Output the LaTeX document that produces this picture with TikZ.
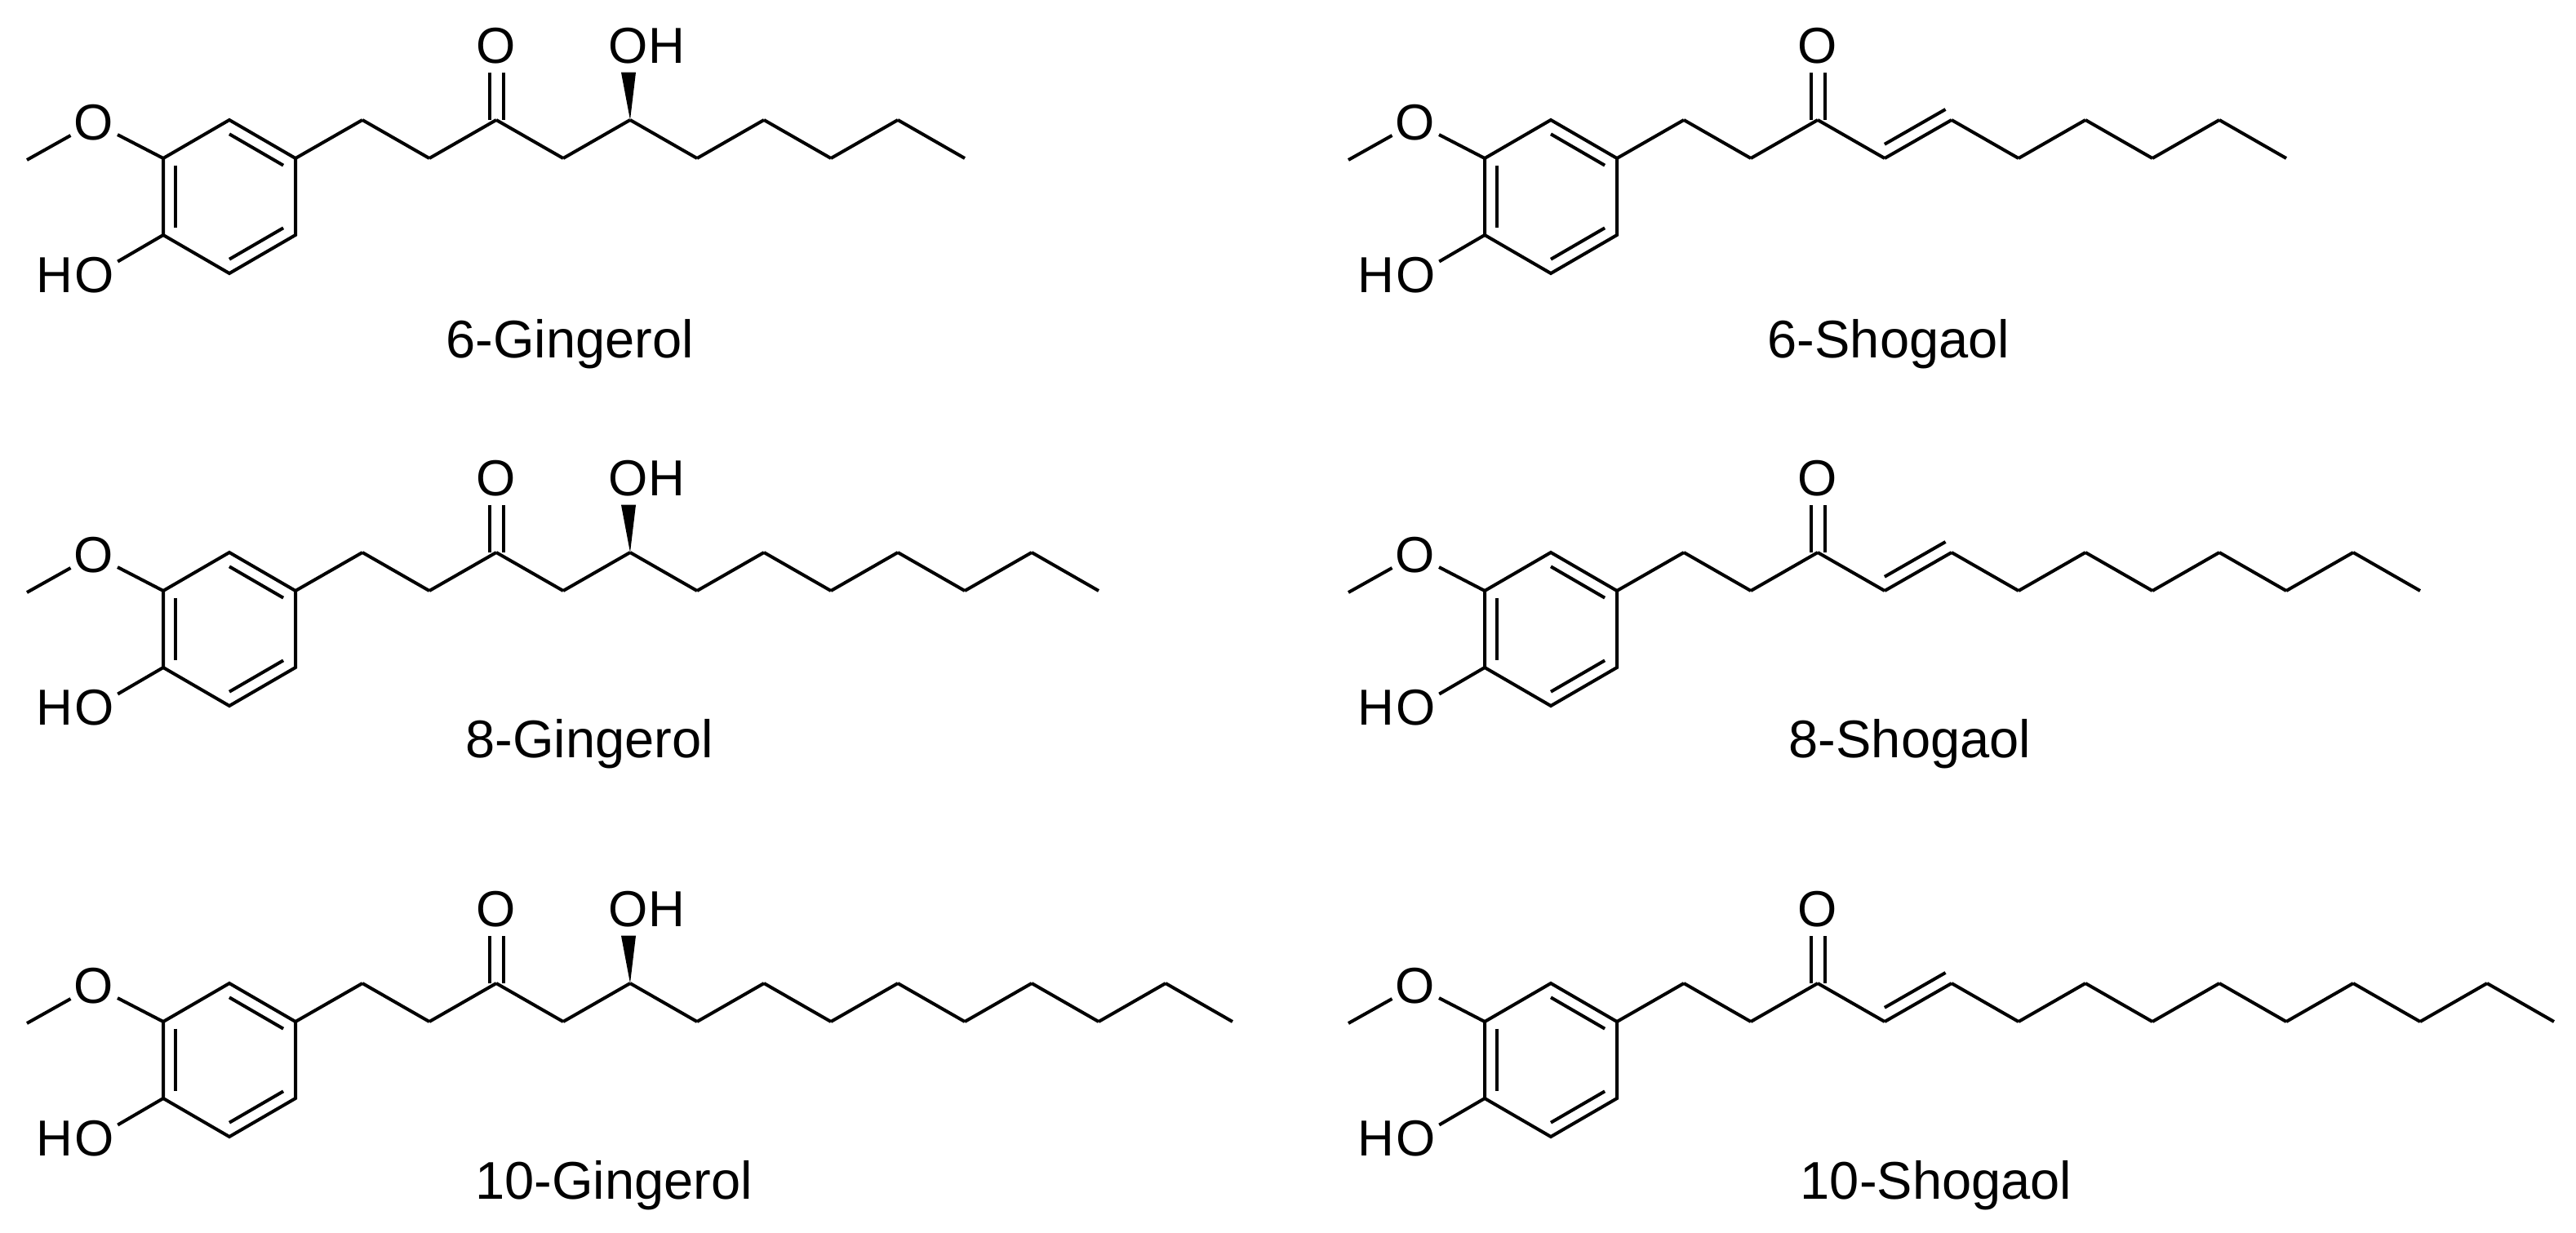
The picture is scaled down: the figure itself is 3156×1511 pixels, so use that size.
\documentclass[tikz,border=0pt]{standalone}
\usepackage{fontspec}
\setmainfont{Liberation Sans}
\usetikzlibrary{calc}
\tikzset{
  bond/.style={line width=4pt},
  atom/.style={circle,inner sep=0pt,font=\fontsize{62}{70}\selectfont},
  hlab/.style={inner sep=0pt,font=\fontsize{62}{70}\selectfont},
  lab/.style={inner sep=0pt,anchor=base,font=\fontsize{65}{72}\selectfont},
}
% #1 prefix, #2 xoff, #3 yoff, #4 last chain index, #5 1=shogaol 0=gingerol
\newcommand\mymol[5]{%
\begin{scope}[shift={(#2,#3)}]
\coordinate (#1cen) at (281,241);
\coordinate (#1a) at (281,147);
\coordinate (#1b) at (362,194);
\coordinate (#1c) at (362,288);
\coordinate (#1d) at (281,335);
\coordinate (#1e) at (200,288);
\coordinate (#1f) at (200,194);
\draw[bond] (#1a)--(#1b)--(#1c)--(#1d)--(#1e)--(#1f)--cycle;
\draw[bond] ($(#1cen)!0.816!(#1f)$)--($(#1cen)!0.816!(#1e)$);
\draw[bond] ($(#1cen)!0.816!(#1a)$)--($(#1cen)!0.816!(#1b)$);
\draw[bond] ($(#1cen)!0.816!(#1c)$)--($(#1cen)!0.816!(#1d)$);
\node[atom] (#1Om) at (115,150) {O};
\coordinate (#1Me) at (33,196);
\draw[bond] (#1Me)--(#1Om);
\draw[bond] (#1Om)--(#1f);
\node[atom] (#1Oh) at (116,337) {O};
\node[hlab] (#1Hh) at (67,337) {H};
\draw[bond] (#1Oh)--(#1e);
\coordinate (#1k0) at (#1b);
\foreach \k in {1,...,#4}{
  \pgfmathsetmacro\xx{362+82*\k}
  \pgfmathsetmacro\yy{194-47*mod(\k,2)}
  \coordinate (#1k\k) at (\xx,\yy);
}
\foreach \k [remember=\k as \p (initially 0)] in {1,...,#4}{
  \draw[bond,line join=miter] (#1k\p)--(#1k\k);
}
\node[atom] (#1Oc) at (608,56) {O};
\draw[bond] ([xshift=-8.5pt]#1k3)--([xshift=-8.5pt]#1Oc.south);
\draw[bond] ([xshift=8.5pt]#1k3)--([xshift=8.5pt]#1Oc.south);
\ifnum#5=1
  \draw[bond] ($(#1k4)!0.09!(#1k5)+(-7.5,-13)$)--($(#1k5)+(-7.5,-13)$);
\else
  \node[atom] (#1Ow) at (770,56) {O};
  \node[hlab] (#1Hw) at (817,56) {H};
  \fill (#1k5)--([xshift=-9pt]#1Ow.south)--([xshift=9pt]#1Ow.south)--cycle;
\fi
\end{scope}}
\begin{document}
\begin{tikzpicture}[x=1pt,y=-1pt]
\useasboundingbox (0,0) rectangle (3156,1511);
\mymol{ga}{0}{0}{10}{0}
\mymol{gb}{0}{530}{12}{0}
\mymol{gc}{0}{1058}{14}{0}
\mymol{sa}{1619}{0}{10}{1}
\mymol{sb}{1619}{530}{12}{1}
\mymol{sc}{1619}{1058}{14}{1}
\node[lab] (l1) at (698,438) {6-Gingerol};
\node[lab] (l2) at (722,928) {8-Gingerol};
\node[lab] (l3) at (752,1469) {10-Gingerol};
\node[lab] (l4) at (2314,438) {6-Shogaol};
\node[lab] (l5) at (2340,928) {8-Shogaol};
\node[lab] (l6) at (2372,1469) {10-Shogaol};
\end{tikzpicture}
\end{document}
